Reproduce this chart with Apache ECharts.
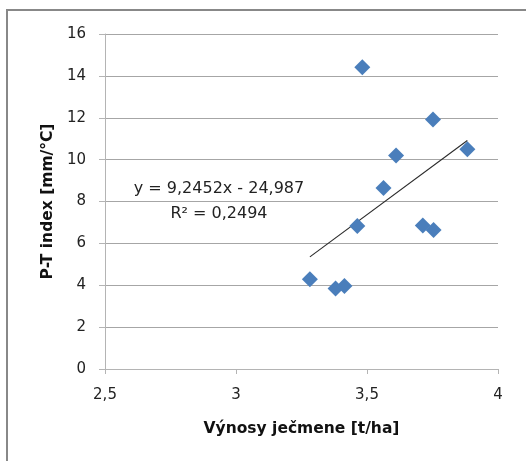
<!DOCTYPE html>
<html>
<head>
<meta charset="utf-8">
<script src="https://cdn.jsdelivr.net/npm/echarts@6/dist/echarts.min.js"></script>
<style>
html,body{margin:0;padding:0;background:#fff;overflow:hidden;}
#chart{width:526px;height:461px;}
</style>
</head>
<body>
<div id="chart"></div>
<script>
// Data
const yieldValues = [3.482, 3.752, 3.883, 3.611, 3.563, 3.463, 3.713, 3.754, 3.282, 3.380, 3.414];
const ptIndexValues = [14.41, 11.92, 10.49, 10.20, 8.64, 6.83, 6.85, 6.64, 4.29, 3.84, 3.97];
const trendSlope = 9.2452;
const trendIntercept = -24.987;
const equationText = 'y = 9,2452x - 24,987';
const r2Text = 'R² = 0,2494';
const xAxisTitle = 'Výnosy ječmene [t/ha]';
const yAxisTitle = 'P-T index [mm/°C]';

const points = yieldValues.map((x, i) => [x, ptIndexValues[i]]);
const xMin = Math.min(...yieldValues), xMax = Math.max(...yieldValues);
const trend = [[xMin, trendSlope * xMin + trendIntercept], [xMax, trendSlope * xMax + trendIntercept]];

const fontFamily = 'DejaVu Sans';
const fmt = v => String(v).replace('.', ',');

const chart = echarts.init(document.getElementById('chart'), null, {renderer: 'canvas'});
chart.setOption({
  animation: false,
  backgroundColor: '#fff',
  textStyle: {fontFamily},
  grid: {left: 105, right: 28, top: 34, bottom: 92},
  xAxis: {
    type: 'value', min: 2.5, max: 4, interval: 0.5,
    name: xAxisTitle, nameLocation: 'middle', nameGap: 52,
    nameTextStyle: {fontFamily, fontWeight: 'bold', fontSize: 15.5, color: '#111'},
    axisLine: {show: true, lineStyle: {color: '#b4b4b4', width: 1}},
    axisTick: {show: true, length: 5, lineStyle: {color: '#b4b4b4'}},
    axisLabel: {formatter: fmt, fontSize: 15, color: '#222', margin: 19, fontFamily},
    splitLine: {show: false}
  },
  yAxis: {
    type: 'value', min: 0, max: 16, interval: 2,
    name: yAxisTitle, nameLocation: 'middle', nameGap: 48, nameRotate: 90,
    nameTextStyle: {fontFamily, fontWeight: 'bold', fontSize: 15.5, color: '#111'},
    axisLine: {show: true, lineStyle: {color: '#b4b4b4', width: 1}},
    axisTick: {show: true, length: 6, lineStyle: {color: '#b4b4b4'}},
    axisLabel: {formatter: fmt, fontSize: 15, color: '#222', margin: 19, fontFamily},
    splitLine: {show: true, lineStyle: {color: '#a6a6a6', width: 1}}
  },
  series: [
    {
      type: 'line', data: trend, symbol: 'none', silent: true,
      lineStyle: {color: '#2a2a2a', width: 1.1}, z: 1
    },
    {
      type: 'scatter', data: points, symbol: 'diamond', symbolSize: 16,
      itemStyle: {color: '#4a7ebb', opacity: 1}, z: 2
    }
  ],
  graphic: [
    {type: 'line', shape: {x1: 7, y1: 10, x2: 540, y2: 10},
     style: {stroke: '#888', lineWidth: 2}, silent: true},
    {type: 'line', shape: {x1: 7, y1: 9, x2: 7, y2: 470},
     style: {stroke: '#888', lineWidth: 2}, silent: true},
    {type: 'text', x: 219, y: 189,
     style: {text: equationText, font: '16px "DejaVu Sans"', fill: '#222', textAlign: 'center', textVerticalAlign: 'middle'}},
    {type: 'text', x: 219, y: 214,
     style: {text: r2Text, font: '16px "DejaVu Sans"', fill: '#222', textAlign: 'center', textVerticalAlign: 'middle'}}
  ]
});
</script>
</body>
</html>
